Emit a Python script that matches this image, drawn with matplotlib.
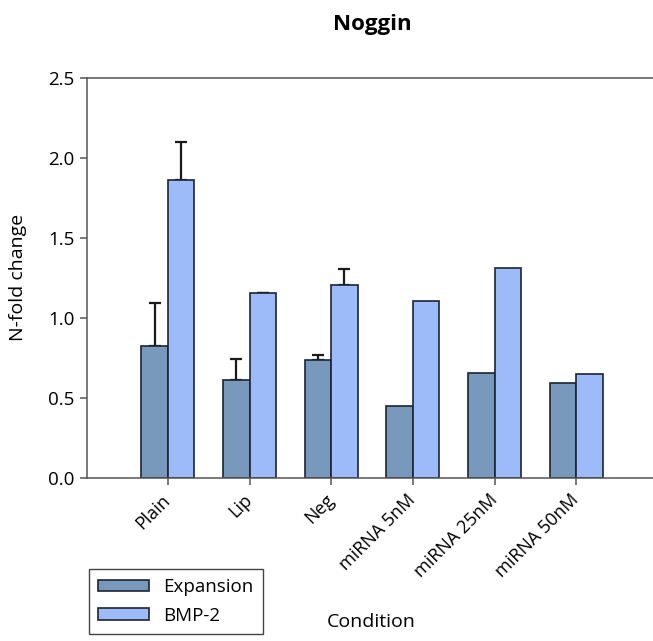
import numpy as np
import matplotlib
matplotlib.use("Agg")
from matplotlib import pyplot as plt
import matplotlib.transforms as mtransforms

plt.rcParams['font.family'] = ['Open Sans', 'DejaVu Sans']

# data
conditions = ['Plain', 'Lip', 'Neg', 'miRNA 5nM', 'miRNA 25nM', 'miRNA 50nM']
expansion = [0.825, 0.612, 0.738, 0.452, 0.658, 0.595]
expansion_err = [0.27, 0.13, 0.033, 0, 0, 0]
bmp2 = [1.86, 1.154, 1.206, 1.104, 1.314, 0.652]
bmp2_err = [0.24, 0.004, 0.10, 0, 0, 0]

col_exp = '#7898bc'
col_bmp = '#9dbbf8'
edge = '#1c2433'

fig = plt.figure(figsize=(6.53, 6.41), dpi=100)
ax = fig.add_axes([0.1332, 0.2543, 0.8668, 0.6242])

x = np.arange(len(conditions))
w = 0.325

ax.bar(x - w/2, expansion, w, color=col_exp, edgecolor=edge, linewidth=1.2,
       label='Expansion', zorder=2)
ax.bar(x + w/2, bmp2, w, color=col_bmp, edgecolor=edge, linewidth=1.2,
       label='BMP-2', zorder=2)

# upper error bars only, and only where there is one
for xs, vals, errs in [(x - w/2, expansion, expansion_err), (x + w/2, bmp2, bmp2_err)]:
    errs = np.array(errs)
    m = errs > 0
    ax.errorbar(xs[m], np.array(vals)[m], yerr=[np.zeros(m.sum()), errs[m]],
                fmt='none', ecolor='#1a1a1a', elinewidth=1.6, capsize=4.5,
                capthick=1.6, zorder=1)

ax.set_xlim(-0.99, 5.94)
ax.set_ylim(0, 2.5)
ax.set_yticks([0, 0.5, 1.0, 1.5, 2.0, 2.5])
ax.set_yticklabels(['0.0', '0.5', '1.0', '1.5', '2.0', '2.5'], fontsize=13.5)
ax.set_xticks(x)
ax.set_xticklabels(conditions, rotation=45, ha='right', va='center',
                   rotation_mode='anchor', fontsize=13)
# nudge rotated labels a little to the right
shift = mtransforms.ScaledTranslation(5/72, 2/72, fig.dpi_scale_trans)
for lbl in ax.get_xticklabels():
    lbl.set_transform(lbl.get_transform() + shift)

ax.spines['right'].set_visible(False)
for side in ['left', 'bottom', 'top']:
    ax.spines[side].set_color('#555555')
    ax.spines[side].set_linewidth(1.1)
ax.tick_params(axis='both', direction='out', length=5, width=1.1, color='#555555')
ax.tick_params(axis='x', pad=9)
ax.tick_params(axis='y', pad=4)

fig.text(18/653, 0.567, 'N-fold change', ha='center', va='center', rotation=90,
         fontsize=14)
fig.text(371/653, 1 - 627/641, 'Condition', ha='center', va='baseline', fontsize=14)
fig.text(372/653, 1 - 30/641, 'Noggin', ha='center', va='baseline', fontsize=16,
         fontweight='bold')

leg = fig.legend(loc='upper left', bbox_to_anchor=(89/653, 1 - 569/641), fontsize=13.5,
                 fancybox=False, edgecolor='#444444', framealpha=1,
                 handlelength=2.7, handleheight=0.55, handletextpad=0.75,
                 borderpad=0.5, labelspacing=0.55, borderaxespad=0)
leg.get_frame().set_linewidth(1.0)

fig.savefig('out.png', dpi=100)
